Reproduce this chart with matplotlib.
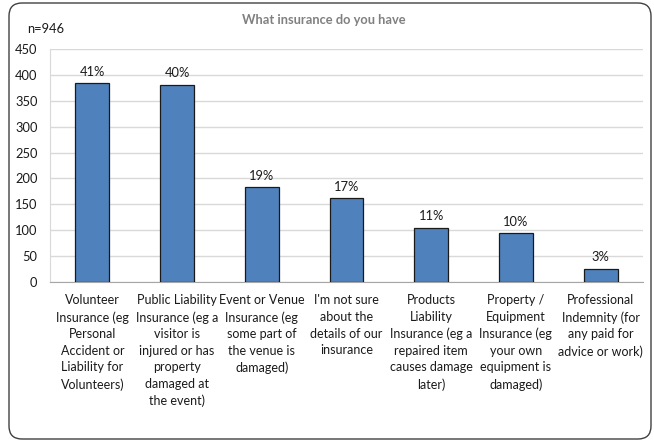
import matplotlib
matplotlib.use("Agg")
import matplotlib.pyplot as plt
from matplotlib.patches import FancyBboxPatch

plt.rcParams['font.family'] = ['Lato', 'DejaVu Sans']

categories = [
    "Volunteer\nInsurance (eg\nPersonal\nAccident or\nLiability for\nVolunteers)",
    "Public Liability\nInsurance (eg a\nvisitor is\ninjured or has\nproperty\ndamaged at\nthe event)",
    "Event or Venue\nInsurance (eg\nsome part of\nthe venue is\ndamaged)",
    "I'm not sure\nabout the\ndetails of our\ninsurance",
    "Products\nLiability\nInsurance (eg a\nrepaired item\ncauses damage\nlater)",
    "Property /\nEquipment\nInsurance (eg\nyour own\nequipment is\ndamaged)",
    "Professional\nIndemnity (for\nany paid for\nadvice or work)",
]
counts = [384, 381, 183, 162, 105, 94, 26]
n_total = 946
y_ticks = [0, 50, 100, 150, 200, 250, 300, 350, 400, 450]

W, H = 654, 441
fig = plt.figure(figsize=(W / 100, H / 100), dpi=100)

# rounded outer frame (inch coordinates so the corners stay circular)
frame = FancyBboxPatch((9 / 100, 2 / 100), 642 / 100, 436 / 100,
                       boxstyle="round,pad=0,rounding_size=0.13",
                       transform=fig.dpi_scale_trans, facecolor="none",
                       edgecolor="#404040", linewidth=1.0, zorder=0)
fig.patches.append(frame)

ax = fig.add_axes([50 / W, 1 - 282 / H, (643 - 50) / W, (282 - 49) / H])
ax.set_facecolor("none")
ax.set_zorder(2)

x = list(range(len(categories)))
bars = ax.bar(x, counts, width=0.4, color="#4F81BD", edgecolor="#1a1a1a",
              linewidth=0.9, zorder=3)

for xi, c in zip(x, counts):
    pct = round(100 * c / n_total)
    ax.annotate(f"{pct}%", (xi, c), xytext=(0, 4), textcoords="offset points",
                ha="center", va="bottom", fontsize=9.3, color="#1a1a1a")

ax.set_xlim(-0.5, len(categories) - 0.5)
ax.set_ylim(0, 450)
ax.set_yticks(y_ticks)
ax.set_yticklabels([str(t) for t in y_ticks], fontsize=9.3, color="#1a1a1a")
ax.yaxis.grid(True, color="#d9d9d9", linewidth=1.0, zorder=0)
ax.set_axisbelow(True)
ax.tick_params(axis="y", length=0, pad=9)
ax.tick_params(axis="x", length=0, pad=9)
ax.set_xticks(x)
ax.set_xticklabels(categories, fontsize=9.0, color="#1a1a1a", linespacing=1.45,
                   va="top")

for s in ["top", "right"]:
    ax.spines[s].set_visible(False)
ax.spines["left"].set_color("#d9d9d9")
ax.spines["bottom"].set_color("#a6a6a6")

fig.text(324 / W, 1 - 20 / H, "What insurance do you have", ha="center",
         va="center", fontsize=9.3, fontweight="bold", color="#808080")
fig.text(27 / W, 1 - 29 / H, f"n={n_total}", ha="left", va="center",
         fontsize=9.3, color="#1a1a1a")

fig.savefig("out.png", dpi=100)
